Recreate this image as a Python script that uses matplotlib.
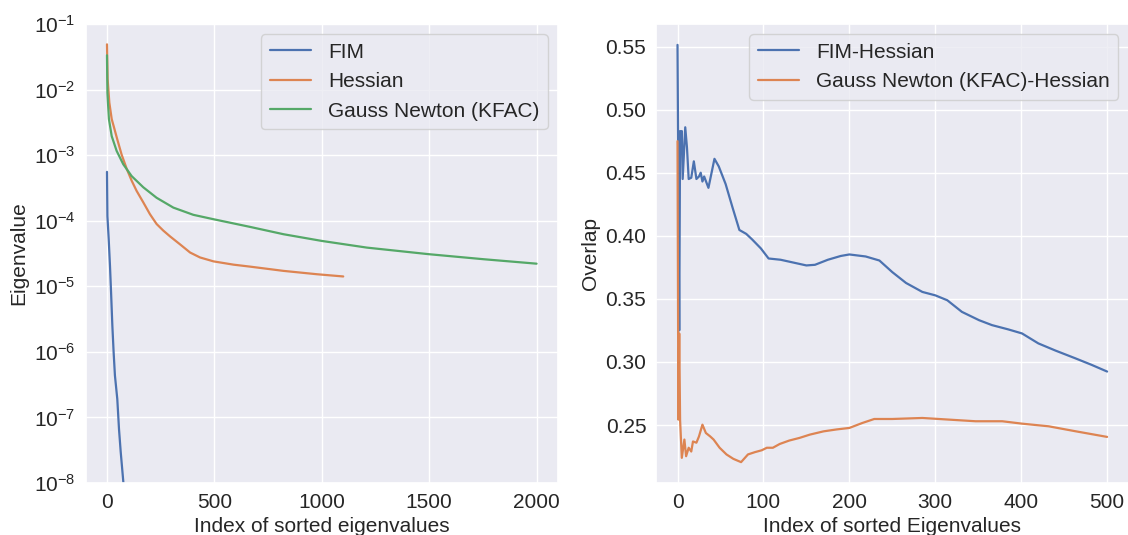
import matplotlib
matplotlib.use("Agg")
import matplotlib.pyplot as plt
import numpy as np
import seaborn as sns

# left panel: eigenvalue spectra (log10 of eigenvalue)
fim_idx = [0, 2, 8, 14, 19, 25, 31, 37, 48, 56, 64, 76, 82]
fim_log = [-3.255, -3.93, -4.28, -4.69, -5.09, -5.60, -6.01, -6.36, -6.72, -7.18, -7.53, -7.98, -8.3]

hess_idx = [0, 3, 11, 22, 33, 48, 68, 92, 115, 138, 169, 200, 231, 262, 294, 340,
            387, 433, 496, 589, 666, 822, 977, 1100]
hess_log = [-1.31, -1.84, -2.20, -2.45, -2.58, -2.76, -2.99, -3.21, -3.39, -3.545, -3.72,
            -3.90, -4.05, -4.15, -4.24, -4.36, -4.485, -4.56, -4.62, -4.67, -4.70, -4.765,
            -4.816, -4.85]

gn_idx = [0, 2, 9, 22, 45, 76, 115, 169, 231, 309, 402, 500, 666, 822, 1000, 1210,
          1497, 1753, 2000]
gn_log = [-1.477, -2.05, -2.45, -2.71, -2.935, -3.14, -3.32, -3.49, -3.65, -3.80, -3.91,
          -3.98, -4.094, -4.206, -4.308, -4.41, -4.51, -4.587, -4.655]

# right panel: overlap of top eigenspaces
fh_idx = [0, 2, 3, 4, 5, 6, 9, 11, 13, 16, 19, 22, 25, 27, 29, 31, 36, 43, 48, 56, 64,
          72, 80, 87, 97, 106, 120, 140, 150, 160, 175, 190, 200, 219, 235, 250, 266,
          285, 300, 314, 331, 351, 366, 385, 401, 420, 440, 463, 482, 500]
fh_val = [0.5513, 0.325, 0.483, 0.470, 0.483, 0.445, 0.486, 0.470, 0.445, 0.446, 0.459,
          0.445, 0.447, 0.450, 0.443, 0.447, 0.438, 0.461, 0.455, 0.441, 0.4225, 0.4046,
          0.4015, 0.397, 0.390, 0.382, 0.381, 0.378, 0.3765, 0.377, 0.381, 0.384, 0.3852,
          0.3836, 0.3804, 0.3712, 0.3626, 0.3555, 0.3528, 0.3489, 0.3397, 0.3331, 0.3292,
          0.3258, 0.3226, 0.3147, 0.309, 0.3029, 0.2977, 0.2924]

gh_idx = [0, 1, 2, 3, 5, 8, 10, 13, 16, 18, 22, 25, 29, 33, 38, 42, 49, 57, 65, 74, 82,
          90, 98, 104, 111, 119, 130, 142, 154, 170, 185, 200, 215, 229, 250, 285, 316,
          347, 378, 401, 432, 463, 500]
gh_val = [0.475, 0.2543, 0.3226, 0.254, 0.224, 0.2385, 0.2253, 0.232, 0.229, 0.237, 0.236,
          0.241, 0.2503, 0.2437, 0.241, 0.2385, 0.232, 0.2267, 0.2232, 0.2206, 0.2267,
          0.2285, 0.230, 0.232, 0.232, 0.235, 0.2377, 0.2398, 0.2424, 0.245, 0.2465,
          0.2477, 0.2516, 0.2548, 0.2548, 0.2556, 0.2543, 0.253, 0.253, 0.2511, 0.249,
          0.2451, 0.2406]


def main():
    sns.set_theme(style="darkgrid")
    plt.rcParams["font.family"] = ["Liberation Sans", "DejaVu Sans"]
    plt.rcParams["font.size"] = 15
    colors = sns.color_palette("deep")

    fig, (ax1, ax2) = plt.subplots(1, 2, figsize=(11.28, 5.35), dpi=100)
    fig.subplots_adjust(left=0.0758, right=1.0005, bottom=0.0972, top=0.9551, wspace=0.2074)

    ax1.plot(fim_idx, 10 ** np.array(fim_log), color=colors[0], lw=1.6, label="FIM")
    ax1.plot(hess_idx, 10 ** np.array(hess_log), color=colors[1], lw=1.6, label="Hessian")
    ax1.plot(gn_idx, 10 ** np.array(gn_log), color=colors[2], lw=1.6,
             label="Gauss Newton (KFAC)")
    ax1.set_yscale("log")
    ax1.set_ylim(1e-8, 1e-1)
    ax1.set_xticks([0, 500, 1000, 1500, 2000])
    ax1.set_xlabel("Index of sorted eigenvalues", fontsize=15)
    ax1.set_ylabel("Eigenvalue", fontsize=15)
    ax1.legend(loc="upper right", fontsize=15)

    ax2.plot(fh_idx, fh_val, color=colors[0], lw=1.6, label="FIM-Hessian")
    ax2.plot(gh_idx, gh_val, color=colors[1], lw=1.6, label="Gauss Newton (KFAC)-Hessian")
    ax2.set_yticks([0.25, 0.30, 0.35, 0.40, 0.45, 0.50, 0.55])
    ax2.set_xlabel("Index of sorted Eigenvalues", fontsize=15)
    ax2.set_ylabel("Overlap", fontsize=15)
    ax2.legend(loc="upper right", fontsize=15)

    for ax in (ax1, ax2):
        ax.tick_params(which="both", length=0, pad=7, labelsize=15)

    fig.savefig("out.png", dpi=100)


if __name__ == "__main__":
    main()
